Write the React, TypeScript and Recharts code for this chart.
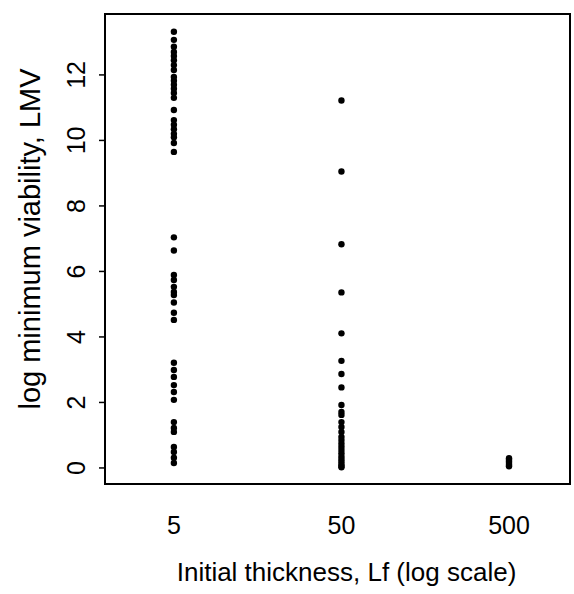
import React from "react";
import { ScatterChart, Scatter, XAxis, YAxis, ReferenceArea } from "recharts";

// Initial thickness categories (log scale)
const thicknessLevels = [5, 50, 500];
const xTicks = [5, 50, 500];
const yTicks = [0, 2, 4, 6, 8, 10, 12];

// log minimum viability (LMV) values
const lmvAt5 = [
  13.32, 13.07, 12.86, 12.7, 12.58, 12.45, 12.3, 12.15, 11.94, 11.82, 11.7, 11.58,
  11.45, 11.3, 10.93, 10.62, 10.48, 10.34, 10.2, 10.1, 9.92, 9.65,
  7.04, 6.64, 5.89, 5.74, 5.53, 5.37, 5.28, 5.05, 4.74, 4.52,
  3.21, 2.99, 2.78, 2.53, 2.32, 2.08, 1.4, 1.22, 1.1, 0.64, 0.49, 0.31, 0.15,
];
const lmvAt50 = [
  11.22, 9.05, 6.83, 5.36, 4.11, 3.27, 2.87, 2.46, 1.92, 1.71, 1.62, 1.4,
  1.25, 1.1, 0.95, 0.85, 0.75, 0.65, 0.55, 0.45, 0.35, 0.27, 0.2, 0.12, 0.06, 0.02,
];
const lmvAt500 = [0.3, 0.25, 0.2, 0.15, 0.1, 0.05];

const xDomain: [number, number] = [1.94, 1156];
const yDomain: [number, number] = [-0.49, 13.86];

const seriesByLevel = [lmvAt5, lmvAt50, lmvAt500];
const points = thicknessLevels.flatMap((lf, i) =>
  seriesByLevel[i].map((v) => ({ x: lf, y: v }))
);

const FONT = '"Liberation Sans", Arial, Helvetica, sans-serif';

const XTick = (props: any) => {
  const { x, y, payload } = props;
  return (
    <text
      x={x}
      y={y + 50}
      textAnchor="middle"
      fontSize={25}
      fontFamily={FONT}
      fill="#000"
    >
      {payload.value}
    </text>
  );
};

const YTick = (props: any) => {
  const { x, y, payload } = props;
  const bx = x - 14;
  return (
    <text
      x={bx}
      y={y}
      textAnchor="middle"
      fontSize={25}
      fontFamily={FONT}
      fill="#000"
      transform={`rotate(-90 ${bx} ${y})`}
    >
      {payload.value}
    </text>
  );
};

const XLabel = (props: any) => {
  const vb = props.viewBox;
  const cx = vb.x + vb.width / 2 + 9;
  return (
    <text
      x={cx}
      y={vb.y + 97}
      textAnchor="middle"
      fontSize={26}
      fontFamily={FONT}
      fill="#000"
    >
      Initial thickness, Lf (log scale)
    </text>
  );
};

const YLabel = (props: any) => {
  const vb = props.viewBox;
  const bx = 40;
  const cy = vb.y + vb.height / 2 - 10;
  return (
    <text
      x={bx}
      y={cy}
      textAnchor="middle"
      fontSize={29}
      fontFamily={FONT}
      fill="#000"
      transform={`rotate(-90 ${bx} ${cy})`}
    >
      log minimum viability, LMV
    </text>
  );
};

const Dot = (p: any) => <circle cx={p.cx} cy={p.cy} r={3.2} fill="#000" />;

export default function App() {
  return (
    <div style={{ position: "absolute", left: 0, top: 0, background: "#fff" }}>
      <ScatterChart
        width={574}
        height={594}
        margin={{ top: 14, right: 4, bottom: 0, left: 0 }}
      >
        <XAxis
          type="number"
          dataKey="x"
          scale="log"
          domain={xDomain}
          ticks={xTicks}
          allowDataOverflow
          height={110}
          axisLine={false}
          tickLine={false}
          tickSize={0}
          tickMargin={0}
          tick={<XTick />}
          label={<XLabel />}
        />
        <YAxis
          type="number"
          dataKey="y"
          domain={yDomain}
          ticks={yTicks}
          allowDataOverflow
          width={105}
          axisLine={false}
          tickLine={{ stroke: "#000", strokeWidth: 1.5 }}
          tickSize={6}
          tickMargin={0}
          tick={<YTick />}
          label={<YLabel />}
        />
        <ReferenceArea
          x1={xDomain[0]}
          x2={xDomain[1]}
          y1={yDomain[0]}
          y2={yDomain[1]}
          fill="none"
          fillOpacity={0}
          stroke="#000"
          strokeWidth={2}
          strokeOpacity={1}
        />
        <Scatter data={points} shape={<Dot />} isAnimationActive={false} />
      </ScatterChart>
    </div>
  );
}
